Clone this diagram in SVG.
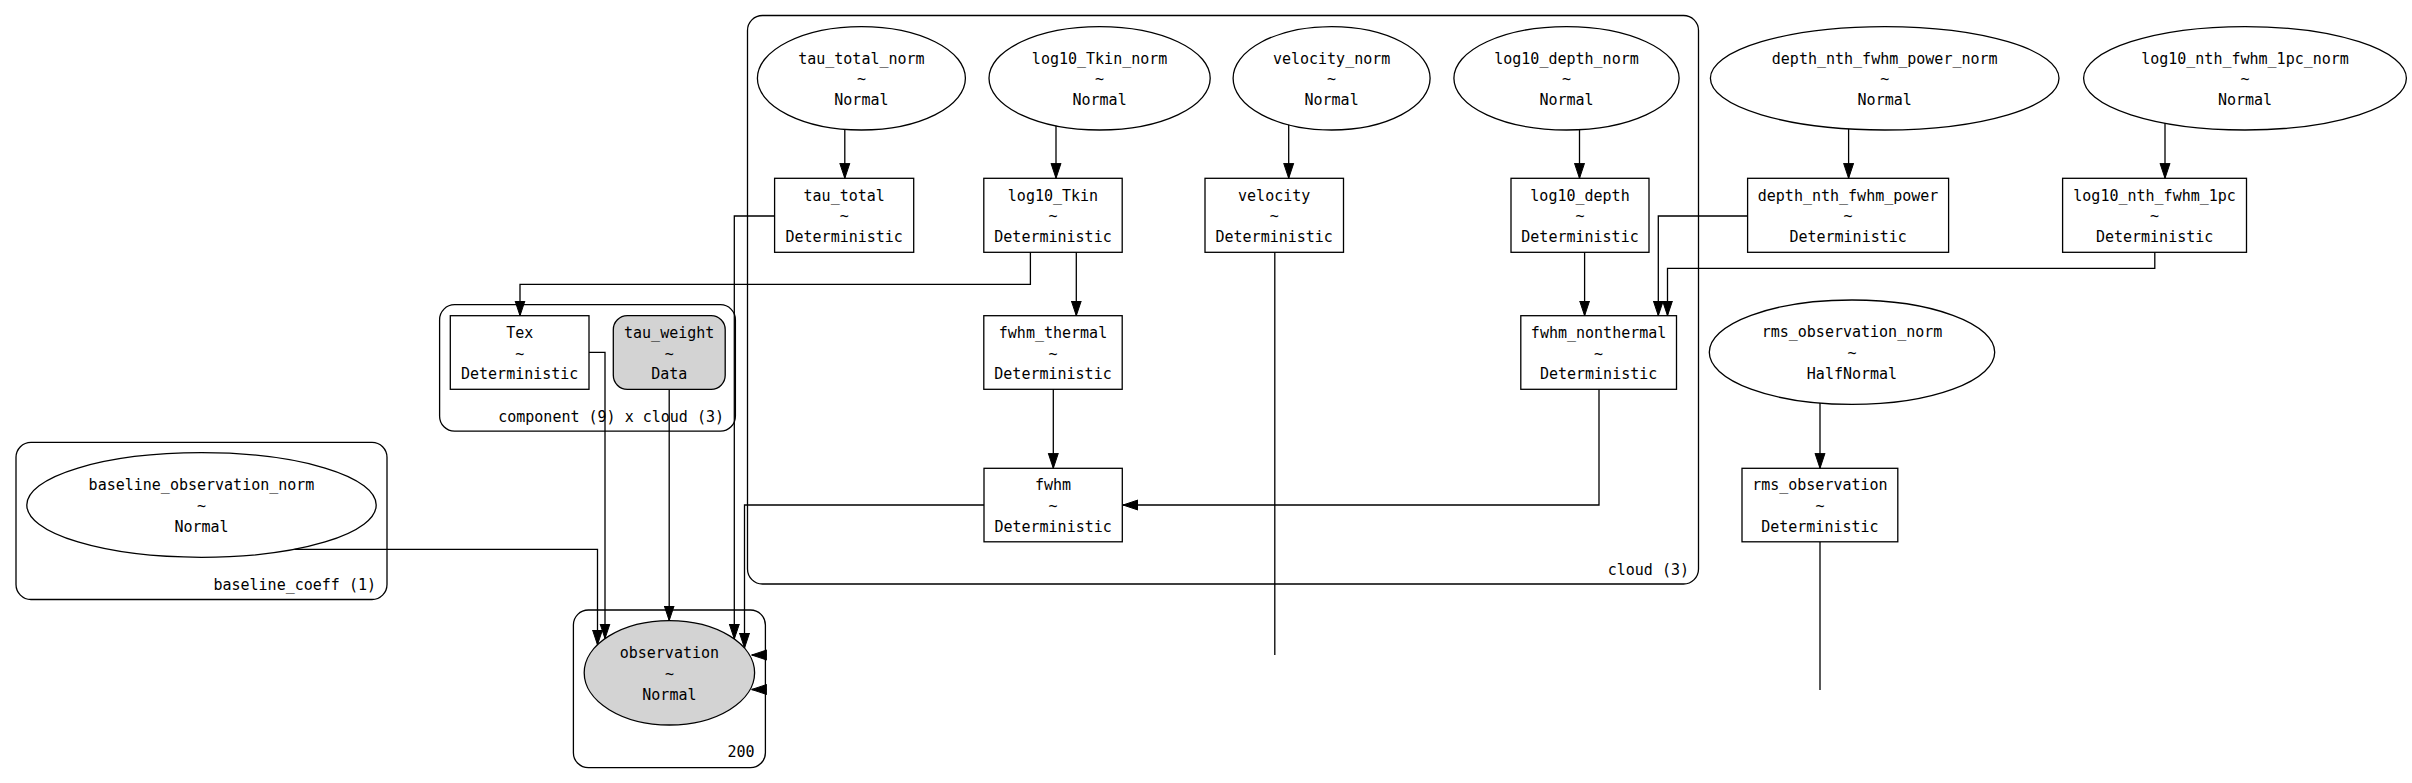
<svg xmlns="http://www.w3.org/2000/svg" width="2412" height="783" viewBox="0 0 2412 783">
<style>
text{font-family:"DejaVu Sans Mono","Liberation Mono",monospace;font-size:15px;fill:#000;text-anchor:middle}
.pl{text-anchor:end}
.plate{fill:none;stroke:#000;stroke-width:1.3}
.nd{fill:none;stroke:#000;stroke-width:1.3}
.obs{fill:#d3d3d3;stroke:#000;stroke-width:1.3}
.e{fill:none;stroke:#000;stroke-width:1.3;marker-end:url(#ah)}
.el{fill:none;stroke:#000;stroke-width:1.3}
</style>
<defs>
<marker id="ah" markerUnits="userSpaceOnUse" markerWidth="16" markerHeight="12" viewBox="0 0 16 12" refX="15" refY="6" orient="auto">
<path d="M0,1 L15,6 L0,11 Z" fill="#000" stroke="#000" stroke-width="1"/>
</marker>
</defs>
<rect x="0" y="0" width="2412" height="783" fill="#fff"/>
<g id="plates">
<g id="plate_cloud"><rect class="plate" x="747.5" y="15.5" width="951" height="568.5" rx="15"/><text class="pl" x="1689" y="575">cloud (3)</text></g>
<g id="plate_component"><rect class="plate" x="439.6" y="304.7" width="295.8" height="126.5" rx="15"/><text class="pl" x="724" y="422">component (9) x cloud (3)</text></g>
<g id="plate_baseline"><rect class="plate" x="16" y="442.3" width="371" height="157.2" rx="15"/><text class="pl" x="376" y="590">baseline_coeff (1)</text></g>
<g id="plate_200"><rect class="plate" x="573.4" y="610" width="192" height="157.7" rx="15"/><text class="pl" x="754.5" y="757">200</text></g>
</g>
<g id="edges">
<path class="e" d="M844.8,129.3 V178.3"/>
<path class="e" d="M1056,125.8 V178.3"/>
<path class="e" d="M1288.7,124.8 V178.3"/>
<path class="e" d="M1579.5,129.7 V178.3"/>
<path class="e" d="M1848.6,128.9 V178.3"/>
<path class="e" d="M2165,123.2 V178.3"/>
<path class="e" d="M1820,403 V468.3"/>
<path class="e" d="M1076.3,252.3 V315.7"/>
<path class="e" d="M1030.4,252.3 V284.3 H520 V315.7"/>
<path class="e" d="M1584.6,252.3 V315.7"/>
<path class="e" d="M1747.6,216 H1658.3 V315.7"/>
<path class="e" d="M2154.8,252.3 V268.3 H1667.5 V315.7"/>
<path class="e" d="M1053.3,389.3 V468.3"/>
<path class="e" d="M1599,389.3 V505 H1123"/>
<path class="e" d="M1274.8,252.3 V655 M766.5,655 H751.7"/>
<path class="e" d="M1820,542 V690 M766.5,689.5 H751.7"/>
<path class="e" d="M589,352.3 H605 V638.6"/>
<path class="e" d="M669.2,389.3 V620.6"/>
<path class="e" d="M774.6,216 H734.3 V639"/>
<path class="e" d="M984,505 H744.5 V648"/>
<path class="e" d="M294.5,549.3 H597.5 V644.8"/>
</g>
<g id="tau_total_norm"><ellipse class="nd" cx="861.4" cy="78.3" rx="104" ry="51.7"/><text x="861.4" y="63.5">tau_total_norm</text><text x="861.4" y="84.3">~</text><text x="861.4" y="105.1">Normal</text></g>
<g id="log10_Tkin_norm"><ellipse class="nd" cx="1099.6" cy="78.3" rx="110.6" ry="51.7"/><text x="1099.6" y="63.5">log10_Tkin_norm</text><text x="1099.6" y="84.3">~</text><text x="1099.6" y="105.1">Normal</text></g>
<g id="velocity_norm"><ellipse class="nd" cx="1331.6" cy="78.3" rx="98.5" ry="51.7"/><text x="1331.6" y="63.5">velocity_norm</text><text x="1331.6" y="84.3">~</text><text x="1331.6" y="105.1">Normal</text></g>
<g id="log10_depth_norm"><ellipse class="nd" cx="1566.5" cy="78.3" rx="112.6" ry="51.7"/><text x="1566.5" y="63.5">log10_depth_norm</text><text x="1566.5" y="84.3">~</text><text x="1566.5" y="105.1">Normal</text></g>
<g id="depth_nth_fwhm_power_norm"><ellipse class="nd" cx="1884.7" cy="78.3" rx="174.3" ry="51.7"/><text x="1884.7" y="63.5">depth_nth_fwhm_power_norm</text><text x="1884.7" y="84.3">~</text><text x="1884.7" y="105.1">Normal</text></g>
<g id="log10_nth_fwhm_1pc_norm"><ellipse class="nd" cx="2245" cy="78.3" rx="161.4" ry="51.7"/><text x="2245" y="63.5">log10_nth_fwhm_1pc_norm</text><text x="2245" y="84.3">~</text><text x="2245" y="105.1">Normal</text></g>
<g id="rms_observation_norm"><ellipse class="nd" cx="1852" cy="352.2" rx="142.7" ry="52.2"/><text x="1852" y="337.4">rms_observation_norm</text><text x="1852" y="358.2">~</text><text x="1852" y="379">HalfNormal</text></g>
<g id="baseline_observation_norm"><ellipse class="nd" cx="201.5" cy="505" rx="174.7" ry="52.3"/><text x="201.5" y="490.2">baseline_observation_norm</text><text x="201.5" y="511">~</text><text x="201.5" y="531.8">Normal</text></g>
<g id="observation"><ellipse class="obs" cx="669.4" cy="672.8" rx="85.2" ry="52.2"/><text x="669.4" y="658">observation</text><text x="669.4" y="678.8">~</text><text x="669.4" y="699.6">Normal</text></g>
<g id="tau_total"><rect class="nd" x="774.6" y="178.3" width="139.1" height="74"/><text x="844.2" y="200.5">tau_total</text><text x="844.2" y="221.3">~</text><text x="844.2" y="242.1">Deterministic</text></g>
<g id="log10_Tkin"><rect class="nd" x="983.8" y="178.3" width="138.4" height="74"/><text x="1053" y="200.5">log10_Tkin</text><text x="1053" y="221.3">~</text><text x="1053" y="242.1">Deterministic</text></g>
<g id="velocity"><rect class="nd" x="1205" y="178.3" width="138.5" height="74"/><text x="1274.2" y="200.5">velocity</text><text x="1274.2" y="221.3">~</text><text x="1274.2" y="242.1">Deterministic</text></g>
<g id="log10_depth"><rect class="nd" x="1511" y="178.3" width="138" height="74"/><text x="1580" y="200.5">log10_depth</text><text x="1580" y="221.3">~</text><text x="1580" y="242.1">Deterministic</text></g>
<g id="depth_nth_fwhm_power"><rect class="nd" x="1747.6" y="178.3" width="201" height="74"/><text x="1848.1" y="200.5">depth_nth_fwhm_power</text><text x="1848.1" y="221.3">~</text><text x="1848.1" y="242.1">Deterministic</text></g>
<g id="log10_nth_fwhm_1pc"><rect class="nd" x="2062.6" y="178.3" width="183.9" height="74"/><text x="2154.6" y="200.5">log10_nth_fwhm_1pc</text><text x="2154.6" y="221.3">~</text><text x="2154.6" y="242.1">Deterministic</text></g>
<g id="Tex"><rect class="nd" x="450.3" y="315.7" width="138.7" height="73.6"/><text x="519.7" y="337.7">Tex</text><text x="519.7" y="358.5">~</text><text x="519.7" y="379.3">Deterministic</text></g>
<g id="tau_weight"><rect class="obs" x="613.3" y="315.7" width="111.9" height="73.6" rx="14"/><text x="669.2" y="337.7">tau_weight</text><text x="669.2" y="358.5">~</text><text x="669.2" y="379.3">Data</text></g>
<g id="fwhm_thermal"><rect class="nd" x="983.8" y="315.7" width="138.4" height="73.6"/><text x="1053" y="337.7">fwhm_thermal</text><text x="1053" y="358.5">~</text><text x="1053" y="379.3">Deterministic</text></g>
<g id="fwhm_nonthermal"><rect class="nd" x="1520.8" y="315.7" width="155.7" height="73.6"/><text x="1598.6" y="337.7">fwhm_nonthermal</text><text x="1598.6" y="358.5">~</text><text x="1598.6" y="379.3">Deterministic</text></g>
<g id="fwhm"><rect class="nd" x="984" y="468.3" width="138.3" height="73.5"/><text x="1053.1" y="490.3">fwhm</text><text x="1053.1" y="511.1">~</text><text x="1053.1" y="531.9">Deterministic</text></g>
<g id="rms_observation"><rect class="nd" x="1742" y="468.3" width="155.8" height="73.5"/><text x="1819.9" y="490.3">rms_observation</text><text x="1819.9" y="511.1">~</text><text x="1819.9" y="531.9">Deterministic</text></g>
</svg>
